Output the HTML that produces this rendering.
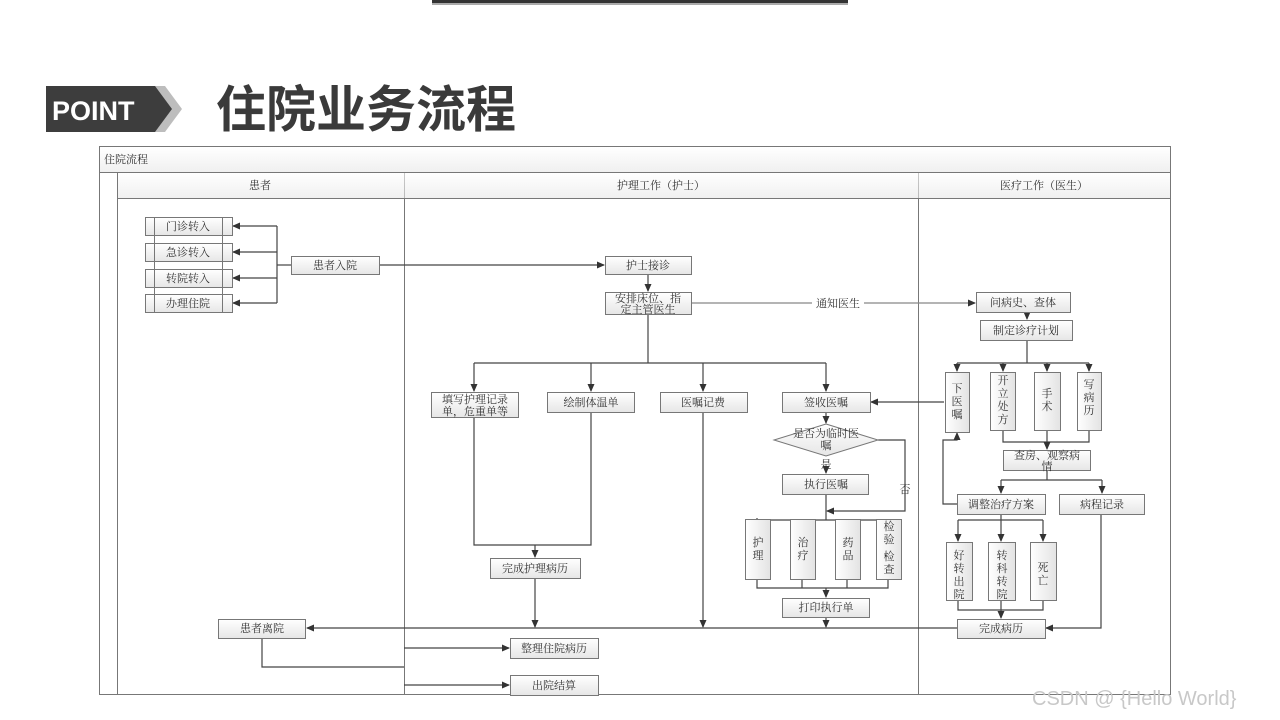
<!DOCTYPE html>
<html><head><meta charset="utf-8"><style>
html,body{margin:0;padding:0;background:#fff;}
svg{display:block;}
text{font-family:"Liberation Serif","Noto Serif CJK SC","Noto Sans CJK SC",serif;fill:#333;}
</style></head><body>
<svg width="1280" height="720" viewBox="0 0 1280 720" xmlns="http://www.w3.org/2000/svg">
<defs>
<linearGradient id="g" x1="0" y1="0" x2="0" y2="1"><stop offset="0" stop-color="#ffffff"/><stop offset="1" stop-color="#e6e6e6"/></linearGradient>
<linearGradient id="gv" x1="0" y1="0" x2="1" y2="0"><stop offset="0" stop-color="#ffffff"/><stop offset="1" stop-color="#e3e3e3"/></linearGradient>
<marker id="a" markerWidth="8" markerHeight="8" refX="7" refY="4" orient="auto" markerUnits="userSpaceOnUse"><path d="M0,0.5 L8,4 L0,7.5 z" fill="#333"/></marker>
</defs>
<!-- top bar -->
<rect x="432" y="0" width="416" height="3" fill="#333"/>
<rect x="432" y="3" width="416" height="2" fill="#aaa"/>
<!-- POINT badge -->
<polygon points="120,86 165,86 182,109 165,132 120,132" fill="#bdbdbd"/>
<polygon points="46,86 155,86 172,109 155,132 46,132" fill="#3d3d3d"/>
<text x="52" y="120" font-family="Liberation Sans,sans-serif" font-weight="bold" font-size="27" style="fill:#fff;font-family:'Liberation Sans',sans-serif">POINT</text>
<text x="216" y="127" font-size="50" font-weight="bold" style="fill:#3a3a3a;font-family:'Noto Sans CJK SC',sans-serif">住院业务流程</text>
<!-- frame -->
<g stroke="#777" fill="none" stroke-width="1">
<rect x="99.5" y="146.5" width="1071" height="548"/>
<line x1="99" y1="172.5" x2="1171" y2="172.5"/>
<line x1="117" y1="198.5" x2="1171" y2="198.5"/>
<line x1="117.5" y1="172" x2="117.5" y2="695"/>
<line x1="404.5" y1="172" x2="404.5" y2="695"/>
<line x1="918.5" y1="172" x2="918.5" y2="695"/>
</g>
<rect x="100" y="147" width="1070" height="25" fill="url(#g)" opacity="0.6"/>
<rect x="118" y="173" width="1052" height="25" fill="url(#g)" opacity="0.6"/>
<text x="104" y="163" font-size="11">住院流程</text>
<text x="260" y="189" font-size="11" text-anchor="middle">患者</text>
<text x="661" y="189" font-size="11" text-anchor="middle">护理工作（护士）</text>
<text x="1044" y="189" font-size="11" text-anchor="middle">医疗工作（医生）</text>

<g stroke="#444" stroke-width="1.2" fill="none">
<!-- patient lane -->
<line x1="277" y1="226" x2="277" y2="303"/>
<line x1="277" y1="226" x2="233" y2="226" marker-end="url(#a)"/>
<line x1="277" y1="252" x2="233" y2="252" marker-end="url(#a)"/>
<line x1="277" y1="278" x2="233" y2="278" marker-end="url(#a)"/>
<line x1="277" y1="303" x2="233" y2="303" marker-end="url(#a)"/>
<line x1="277" y1="265" x2="291" y2="265"/>
<line x1="379" y1="265" x2="604" y2="265" marker-end="url(#a)"/>
<line x1="648" y1="274" x2="648" y2="291" marker-end="url(#a)"/>
<line x1="691" y1="303" x2="812" y2="303" stroke="#888"/>
<line x1="864" y1="303" x2="975" y2="303" stroke="#888" marker-end="url(#a)"/>
<line x1="1027" y1="312" x2="1027" y2="319" marker-end="url(#a)"/>
<!-- nurse branches -->
<line x1="648" y1="314" x2="648" y2="363"/>
<line x1="474" y1="363" x2="826" y2="363"/>
<line x1="474" y1="363" x2="474" y2="391" marker-end="url(#a)"/>
<line x1="591" y1="363" x2="591" y2="391" marker-end="url(#a)"/>
<line x1="703" y1="363" x2="703" y2="391" marker-end="url(#a)"/>
<line x1="826" y1="363" x2="826" y2="391" marker-end="url(#a)"/>
<polyline points="474,418 474,545 591,545 591,412"/>
<line x1="535" y1="545" x2="535" y2="557" marker-end="url(#a)"/>
<line x1="535" y1="578" x2="535" y2="627" marker-end="url(#a)"/>
<line x1="703" y1="412" x2="703" y2="627" marker-end="url(#a)"/>
<line x1="826" y1="412" x2="826" y2="423" marker-end="url(#a)"/>
<line x1="826" y1="470" x2="826" y2="473" marker-end="url(#a)"/>
<polyline points="878,440 905,440 905,511 827,511" marker-end="url(#a)"/>
<line x1="826" y1="494" x2="826" y2="520"/>
<line x1="757" y1="520" x2="888" y2="520"/>
<line x1="757" y1="520" x2="757" y2="518" />
<line x1="757" y1="520" x2="757" y2="528" marker-end="url(#a)"/>
<line x1="802" y1="520" x2="802" y2="528" marker-end="url(#a)"/>
<line x1="847" y1="520" x2="847" y2="528" marker-end="url(#a)"/>
<line x1="888" y1="520" x2="888" y2="528" marker-end="url(#a)"/>
<polyline points="757,579 757,588 888,588 888,579"/>
<line x1="802" y1="579" x2="802" y2="588"/><line x1="847" y1="579" x2="847" y2="588"/>
<line x1="826" y1="588" x2="826" y2="597" marker-end="url(#a)"/>
<line x1="826" y1="617" x2="826" y2="627" marker-end="url(#a)"/>
<!-- doctor -->
<line x1="1027" y1="340" x2="1027" y2="363"/>
<line x1="957" y1="363" x2="1089" y2="363"/>
<line x1="957" y1="363" x2="957" y2="371" marker-end="url(#a)"/>
<line x1="1003" y1="363" x2="1003" y2="371" marker-end="url(#a)"/>
<line x1="1047" y1="363" x2="1047" y2="371" marker-end="url(#a)"/>
<line x1="1089" y1="363" x2="1089" y2="371" marker-end="url(#a)"/>
<polyline points="1003,430 1003,442 1089,442 1089,430"/>
<line x1="1047" y1="430" x2="1047" y2="449" marker-end="url(#a)"/>
<line x1="1047" y1="470" x2="1047" y2="480"/>
<line x1="1001" y1="480" x2="1102" y2="480"/>
<line x1="1001" y1="480" x2="1001" y2="493" marker-end="url(#a)"/>
<line x1="1102" y1="480" x2="1102" y2="493" marker-end="url(#a)"/>
<polyline points="957,504 943,504 943,440 957,440 957,433" marker-end="url(#a)"/>
<line x1="944" y1="402" x2="871" y2="402" marker-end="url(#a)"/>
<line x1="1001" y1="514" x2="1001" y2="520"/>
<line x1="958" y1="520" x2="1043" y2="520"/>
<line x1="958" y1="520" x2="958" y2="541" marker-end="url(#a)"/>
<line x1="1001" y1="520" x2="1001" y2="541" marker-end="url(#a)"/>
<line x1="1043" y1="520" x2="1043" y2="541" marker-end="url(#a)"/>
<polyline points="958,600 958,610 1043,610 1043,600"/>
<line x1="1001" y1="600" x2="1001" y2="618" marker-end="url(#a)"/>
<polyline points="1101,514 1101,628 1046,628" marker-end="url(#a)"/>
<line x1="957" y1="628" x2="307" y2="628" marker-end="url(#a)"/>
<polyline points="262,638 262,667 404,667"/>
<line x1="404" y1="648" x2="509" y2="648" marker-end="url(#a)"/>
<line x1="404" y1="685" x2="509" y2="685" marker-end="url(#a)"/>
</g>
<text x="838" y="307" font-size="11" text-anchor="middle">通知医生</text>

<g stroke="#777" stroke-width="1" fill="url(#g)">
<rect x="145.5" y="217.5" width="87" height="18"/><rect x="145.5" y="243.5" width="87" height="18"/>
<rect x="145.5" y="269.5" width="87" height="18"/><rect x="145.5" y="294.5" width="87" height="18"/>
<rect x="291.5" y="256.5" width="88" height="18"/>
<rect x="605.5" y="256.5" width="86" height="18"/>
<rect x="605.5" y="292.5" width="86" height="22"/>
<rect x="976.5" y="292.5" width="94" height="20"/>
<rect x="980.5" y="320.5" width="92" height="20"/>
<rect x="431.5" y="392.5" width="87" height="25"/>
<rect x="547.5" y="392.5" width="87" height="20"/>
<rect x="660.5" y="392.5" width="87" height="20"/>
<rect x="782.5" y="392.5" width="88" height="20"/>
<polygon points="826,424 878,440 826,456 774,440"/>
<rect x="782.5" y="474.5" width="86" height="20"/>
<rect x="490.5" y="558.5" width="90" height="20"/>
<rect x="782.5" y="598.5" width="87" height="19"/>
<rect x="1003.5" y="450.5" width="87" height="20"/>
<rect x="957.5" y="494.5" width="88" height="20"/>
<rect x="1059.5" y="494.5" width="85" height="20"/>
<rect x="957.5" y="619.5" width="88" height="19"/>
<rect x="218.5" y="619.5" width="87" height="19"/>
<rect x="510.5" y="638.5" width="88" height="20"/>
<rect x="510.5" y="675.5" width="88" height="20"/>
</g>
<g stroke="#777" stroke-width="1" fill="url(#gv)">
<rect x="945.5" y="372.5" width="24" height="60"/><rect x="990.5" y="372.5" width="25" height="58"/>
<rect x="1034.5" y="372.5" width="26" height="58"/><rect x="1077.5" y="372.5" width="24" height="58"/>
<rect x="745.5" y="519.5" width="25" height="60"/><rect x="790.5" y="519.5" width="25" height="60"/>
<rect x="835.5" y="519.5" width="25" height="60"/><rect x="876.5" y="519.5" width="25" height="60"/>
<rect x="946.5" y="542.5" width="26" height="58"/><rect x="988.5" y="542.5" width="27" height="58"/>
<rect x="1030.5" y="542.5" width="26" height="58"/>
</g>
<g stroke="#777" stroke-width="1">
<line x1="154.5" y1="217" x2="154.5" y2="313"/><line x1="222.5" y1="217" x2="222.5" y2="313"/>
</g>
<g font-size="11" text-anchor="middle">
<text x="188" y="230">门诊转入</text><text x="188" y="256">急诊转入</text>
<text x="188" y="282">转院转入</text><text x="188" y="307">办理住院</text>
<text x="335" y="269">患者入院</text>
<text x="648" y="269">护士接诊</text>
<text x="648" y="302">安排床位、指</text><text x="648" y="313">定主管医生</text>
<text x="1023" y="306">问病史、查体</text>
<text x="1026" y="334">制定诊疗计划</text>
<text x="475" y="403">填写护理记录</text><text x="475" y="415">单，危重单等</text>
<text x="591" y="406">绘制体温单</text>
<text x="703" y="406">医嘱记费</text>
<text x="826" y="406">签收医嘱</text>
<text x="826" y="437">是否为临时医</text><text x="826" y="449">嘱</text>
<text x="826" y="468">是</text>
<text x="905" y="493">否</text>
<text x="826" y="488">执行医嘱</text>
<text x="535" y="572">完成护理病历</text>
<text x="826" y="611">打印执行单</text>
<text x="1047" y="459">查房、观察病</text><text x="1047" y="470">情</text>
<text x="1001" y="508">调整治疗方案</text>
<text x="1102" y="508">病程记录</text>
<text x="1001" y="632">完成病历</text>
<text x="262" y="632">患者离院</text>
<text x="554" y="652">整理住院病历</text>
<text x="554" y="689">出院结算</text>
</g>
<g font-size="11" text-anchor="middle">
<text x="957" y="392">下</text><text x="957" y="405">医</text><text x="957" y="418">嘱</text>
<text x="1003" y="384">开</text><text x="1003" y="397">立</text><text x="1003" y="410">处</text><text x="1003" y="423">方</text>
<text x="1047" y="397">手</text><text x="1047" y="410">术</text>
<text x="1089" y="388">写</text><text x="1089" y="401">病</text><text x="1089" y="414">历</text>
<text x="758" y="546">护</text><text x="758" y="559">理</text>
<text x="803" y="546">治</text><text x="803" y="559">疗</text>
<text x="848" y="546">药</text><text x="848" y="559">品</text>
<text x="889" y="530">检</text><text x="889" y="543">验</text><text x="889" y="556">、</text><text x="889" y="560">检</text><text x="889" y="573">查</text>
<text x="959" y="559">好</text><text x="959" y="572">转</text><text x="959" y="585">出</text><text x="959" y="598">院</text>
<text x="1002" y="559">转</text><text x="1002" y="572">科</text><text x="1002" y="585">转</text><text x="1002" y="598">院</text>
<text x="1043" y="571">死</text><text x="1043" y="584">亡</text>
</g>
<text x="1032" y="705" font-size="20" style="fill:#c8c8c8;font-family:'Liberation Sans',sans-serif">CSDN @ {Hello World}</text>
</svg>
</body></html>
